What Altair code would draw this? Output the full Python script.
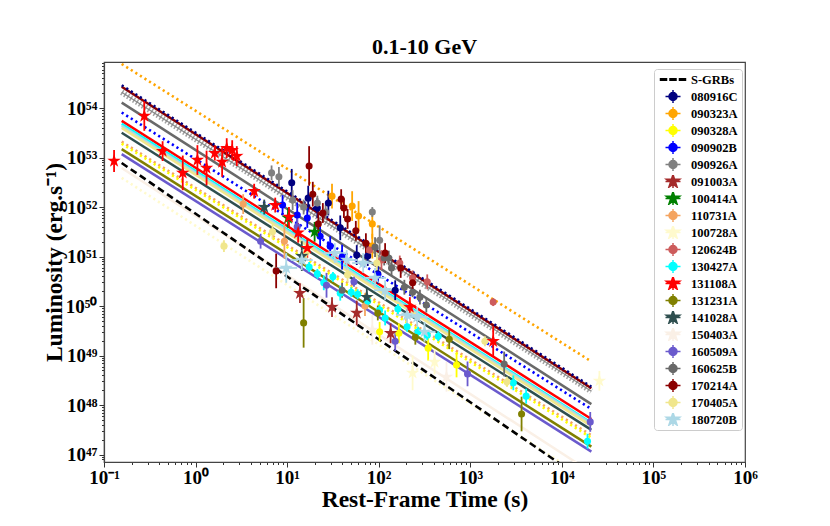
import altair as alt
import pandas as pd

# ---------------- data (log10 values) ----------------
names = ["S-GRBs", "080916C", "090323A", "090328A", "090902B", "090926A", "091003A",
         "100414A", "110731A", "100728A", "120624B", "130427A", "131108A", "131231A",
         "141028A", "150403A", "160509A", "160625B", "170214A", "170405A", "180720B"]
colors = ["#000000", "#000080", "#FFA500", "#FFFF00", "#0000FF", "#808080", "#A52A2A",
          "#008000", "#F4A460", "#FFFACD", "#CD5C5C", "#00FFFF", "#FF0000", "#808000",
          "#2F4F4F", "#FAF0E6", "#6A5ACD", "#696969", "#8B0000", "#F0E68C", "#ADD8E6"]
star_series = ["091003A", "100414A", "100728A", "131108A", "141028A", "150403A", "180720B"]

lt_080916C = [1.05, 1.23, 1.33, 1.45, 1.58, 1.76, 1.88, 1.99, 2.18]
lL_080916C = [52.49, 52.18, 51.98, 52.08, 51.58, 51.03, 51.01, 50.65, 50.32]
er_080916C = [0.28, 0.25, 0.2, 0.25, 0.25, 0.2, 0.2, 0.2, 0.2]

lt_090323A = [1.49, 1.71, 1.78, 1.93, 1.93]
lL_090323A = [52.22, 52.02, 51.82, 51.66, 51.21]
er_090323A = [0.25, 0.3, 0.3, 0.3, 0.25]

lt_090328A = [2.01, 2.22, 2.54, 2.85]
lL_090328A = [49.48, 49.45, 49.15, 48.81]
er_090328A = [0.2, 0.2, 0.25, 0.25]

lt_090902B = [0.95, 1.11, 1.22, 1.36, 1.47, 1.60, 1.99]
lL_090902B = [52.04, 51.84, 51.78, 51.41, 51.21, 50.99, 50.63]
er_090902B = [0.2, 0.25, 0.2, 0.2, 0.2, 0.25, 0.15]

lt_090926A = [0.83, 0.91, 1.06, 1.18, 1.33, 1.42, 1.93, 2.01]
lL_090926A = [52.69, 52.61, 52.14, 52.00, 52.08, 51.90, 51.90, 51.33]
er_090926A = [0.15, 0.2, 0.2, 0.15, 0.15, 0.15, 0.1, 0.3]

lt_091003A = [1.14, 1.49, 1.76, 2.13]
lL_091003A = [50.26, 49.98, 49.86, 49.45]
er_091003A = [0.2, 0.2, 0.25, 0.2]

lt_100414A = [1.01, 1.30]
lL_100414A = [51.78, 51.50]
er_100414A = [0.2, 0.2]

lt_110731A = [0.52, 0.97, 1.85]
lL_110731A = [52.06, 51.31, 50.00]
er_110731A = [0.2, 0.35, 0.2]

lt_100728A = [2.37, 2.61, 4.41]
lL_100728A = [48.65, 48.87, 48.49]
er_100728A = [0.35, 0.25, 0.2]

lt_120624B = [1.90, 2.03, 2.23, 2.37, 2.53, 3.25]
lL_120624B = [51.13, 50.93, 50.87, 50.57, 50.49, 50.08]
er_120624B = [0.15, 0.2, 0.15, 0.15, 0.15, 0.08]

lt_130427A = [1.24, 1.33, 1.40, 1.50, 1.58, 1.70, 1.77, 1.88, 2.01, 2.07, 2.21, 2.31, 2.43,
              2.53, 2.65, 3.47, 3.61, 4.28]
lL_130427A = [50.79, 50.65, 50.47, 50.59, 50.26, 50.28, 50.24, 50.10, 49.92, 49.76, 49.94,
              49.58, 49.48, 49.41, 49.39, 48.45, 48.18, 47.27]
er_130427A = [0.1, 0.1, 0.15, 0.1, 0.15, 0.1, 0.1, 0.1, 0.1, 0.15, 0.1, 0.1, 0.1, 0.1, 0.1,
              0.15, 0.15, 0.15]

lt_131108A = [-0.89, -0.56, -0.36, -0.14, 0.02, 0.12, 0.21, 0.29, 0.34, 0.40, 0.45, 0.64,
              0.87, 1.02, 1.12, 1.22, 2.34, 3.25]
lL_131108A = [52.93, 53.84, 53.13, 52.69, 52.95, 52.79, 53.09, 52.91, 53.19, 53.15, 53.03,
              52.32, 52.04, 51.80, 51.48, 51.17, 49.98, 49.29]
er_131108A = [0.22, 0.3, 0.2, 0.35, 0.3, 0.35, 0.15, 0.3, 0.2, 0.2, 0.2, 0.15, 0.15, 0.2,
              0.2, 0.2, 0.2, 0.3]

lt_131231A = [1.18, 1.99, 2.40, 2.77, 3.56]
lL_131231A = [49.66, 49.86, 49.37, 49.33, 47.82]
er_131231A = [0.5, 0.15, 0.15, 0.2, 0.35]

lt_141028A = [0.75, 1.16, 1.87]
lL_141028A = [52.00, 51.01, 50.18]
er_141028A = [0.15, 0.3, 0.2]

lt_150403A = [1.93, 2.74]
lL_150403A = [49.52, 48.57]
er_150403A = [0.3, 0.3]

lt_160509A = [0.71, 1.11, 1.43, 1.73, 2.18, 2.97, 4.31]
lL_160509A = [51.31, 51.60, 50.42, 50.49, 49.29, 48.63, 47.66]
er_160509A = [0.15, 0.2, 0.25, 0.1, 0.2, 0.25, 0.2]

lt_160625B = [1.60, 1.96, 2.06, 2.11, 2.14, 2.28, 2.37, 2.45, 2.52, 3.37]
lL_160625B = [50.32, 51.19, 50.97, 50.97, 50.77, 50.38, 50.28, 50.18, 50.02, 48.83]
er_160625B = [0.15, 0.2, 0.15, 0.15, 0.15, 0.15, 0.1, 0.15, 0.15, 0.25]

lt_170214A = [0.88, 1.24, 1.28, 1.34, 1.39, 1.59, 1.62, 1.66, 1.75, 1.86, 2.07, 2.24, 2.37]
lL_170214A = [50.71, 52.83, 52.26, 51.66, 51.88, 52.16, 51.98, 51.76, 51.52, 51.27, 51.07,
              50.77, 50.47]
er_170214A = [0.35, 0.4, 0.25, 0.25, 0.2, 0.2, 0.2, 0.2, 0.2, 0.2, 0.2, 0.2, 0.2]

lt_170405A = [0.31, 0.84, 1.21, 1.66, 1.98, 3.16, 3.40]
lL_170405A = [51.21, 51.50, 51.09, 50.63, 50.87, 49.29, 48.47]
er_170405A = [0.12, 0.15, 0.15, 0.15, 0.2, 0.1, 0.1]

lt_180720B = [0.99, 1.16, 1.52, 1.65, 1.83, 1.96, 2.07, 2.31, 2.42, 2.50]
lL_180720B = [50.77, 50.93, 51.07, 50.93, 50.87, 50.57, 50.32, 49.82, 49.78, 49.48]
er_180720B = [0.3, 0.2, 0.2, 0.2, 0.2, 0.2, 0.2, 0.2, 0.2, 0.2]
xer_180720B = 0.12

# fitted power-law lines: log10 L at the two ends of the time range
line_t = [0.156, 2.1e4]
line_names = ["090926A", "170214A", "160625B", "131108A", "130427A", "180720B", "170405A",
              "141028A", "131231A", "160509A", "150403A",
              "090323A", "080916C", "090902B", "110731A", "090328A", "100728A", "S-GRBs"]
line_style = ["band", "solid", "solid", "solid", "solid", "solid", "solid",
              "solid", "solid", "solid", "solid",
              "dot", "dot", "dot", "dot", "dot", "dot", "dash"]
line_lL0 = [54.32, 54.43, 54.11, 53.74, 53.68, 53.64, 53.60, 53.50, 53.17, 53.07, 52.79,
            54.89, 54.46, 53.91, 53.32, 53.28, 52.59, 52.89]
line_lL1 = [48.28, 48.34, 48.02, 47.72, 47.64, 47.62, 47.58, 47.50, 47.16, 47.06, 46.64,
            48.88, 48.37, 47.92, 47.39, 47.34, 46.44, 46.38]

x_major_exp = [-1, 0, 1, 2, 3, 4, 5, 6]
y_major_exp = [47, 48, 49, 50, 51, 52, 53, 54]
x_domain = [0.1, 1e6]
y_domain = [10 ** 46.85, 10 ** 54.93]

# ---------------- build tables ----------------
color_of = dict(zip(names, colors))
sets = [(n, globals()["lt_" + n], globals()["lL_" + n], globals()["er_" + n]) for n in names[1:]]
rows = []
for n, lts, lLs, ers in sets:
    for a, b, e in zip(lts, lLs, ers):
        xe = xer_180720B if n == "180720B" else 0.0
        rows.append(dict(series=n, t=10 ** a, L=10 ** b, lo=10 ** (b - e), hi=10 ** (b + e),
                         tlo=10 ** (a - xe), thi=10 ** (a + xe), xe=xe,
                         col=color_of[n], star=n in star_series))
df = pd.DataFrame(rows)

lrows = []
for i, (n, s, a, b) in enumerate(zip(line_names, line_style, line_lL0, line_lL1)):
    lrows.append(dict(series=n, style=s, t=line_t[0], L=10 ** a, col=color_of[n], k=i))
    lrows.append(dict(series=n, style=s, t=line_t[1], L=10 ** b, col=color_of[n], k=i))
dl = pd.DataFrame(lrows)

leg = pd.DataFrame(dict(series=names, t=[1e-3] * len(names), L=[1e50] * len(names)))

# ---------------- axes ----------------
FONT = "Liberation Serif"
SUP = "'⁰¹²³⁴⁵⁶⁷⁸⁹'"
E = "round(log(datum.value)/LN10)"
MAJOR = f"abs(log(datum.value)/LN10 - {E}) < 0.001"
x_label = (f"({MAJOR}) ? ('10' + ({E} < 0 ? '⁻' : '') + substring({SUP}, abs({E}), abs({E})+1)) : ''")
y_label = (f"({MAJOR}) ? ('10' + substring({SUP}, floor({E}/10), floor({E}/10)+1) + "
           f"substring({SUP}, {E}%10, {E}%10+1)) : ''")

x_ticks = [k * 10.0 ** e for e in range(x_major_exp[0], x_major_exp[-1]) for k in range(1, 10)] + [10.0 ** x_major_exp[-1]]
y_ticks = [k * 10.0 ** e for e in range(y_major_exp[0] - 1, y_major_exp[-1] + 1) for k in range(1, 10)
           if y_domain[0] <= k * 10.0 ** e <= y_domain[1]]

tick_size = {"condition": {"test": MAJOR, "value": 5}, "value": 2.5}
xaxis = alt.Axis(values=x_ticks, labelExpr=x_label, tickSize=tick_size, labelOverlap=False,
                 labelFlush=False, grid=False, labelPadding=1, titlePadding=0)
yaxis = alt.Axis(values=y_ticks, labelExpr=y_label, tickSize=tick_size, labelOverlap=False,
                 labelFlush=False, grid=False, labelPadding=2, titlePadding=-1)
xscale = alt.Scale(type="log", domain=x_domain, nice=False)
yscale = alt.Scale(type="log", domain=y_domain, nice=False)
XT = "Rest-Frame Time (s)"
YT = "Luminosity (erg.s⁻¹)"


def X(f="t"):
    return alt.X(f"{f}:Q", scale=xscale, axis=xaxis, title=XT)


def Y(f="L"):
    return alt.Y(f"{f}:Q", scale=yscale, axis=yaxis, title=YT)


col = alt.Color("col:N", scale=None)

base_l = alt.Chart(dl)
solid = base_l.transform_filter("datum.style == 'solid'").mark_line(strokeWidth=2.5, clip=True).encode(
    x=X(), y=Y(), color=col, detail="series:N", order="t:Q")
band1 = base_l.transform_filter("datum.style == 'band'").mark_line(
    strokeWidth=6, strokeDash=[1.5, 2], opacity=0.75, clip=True).encode(
    x=X(), y=Y(), color=col, detail="series:N")
band2 = base_l.transform_filter("datum.style == 'band'").mark_line(
    strokeWidth=1.2, opacity=0.9, clip=True).encode(x=X(), y=Y(), color=col, detail="series:N")
dots = base_l.transform_filter("datum.style == 'dot'").mark_line(
    strokeWidth=2.6, strokeDash=[2.2, 3.2], clip=True).encode(
    x=X(), y=Y(), color=col, detail="series:N")
dash = base_l.transform_filter("datum.style == 'dash'").mark_line(
    strokeWidth=2.6, strokeDash=[7, 4], clip=True).encode(
    x=X(), y=Y(), color=col, detail="series:N")

base_p = alt.Chart(df)
ebar = base_p.mark_rule(strokeWidth=1.8, clip=True).encode(x=X(), y=Y("lo"), y2="hi:Q", color=col)
xbar = base_p.transform_filter("datum.xe > 0").mark_rule(strokeWidth=1.8, clip=True).encode(
    x=X("tlo"), x2="thi:Q", y=Y(), color=col)
circ = base_p.transform_filter("!datum.star").mark_point(
    filled=True, shape="circle", size=50, opacity=1, clip=True).encode(x=X(), y=Y(), color=col)
STAR = ("M0,-1L0.223,-0.307L0.951,-0.309L0.361,0.117L0.588,0.809L0,0.38L-0.588,0.809"
        "L-0.361,0.117L-0.951,-0.309L-0.223,-0.307Z")
stars = base_p.transform_filter("datum.star").mark_point(
    filled=True, shape=STAR, size=200, opacity=1, clip=True).encode(x=X(), y=Y(), color=col)

# legend-only layer (points lie outside the domain and are clipped)
CROSS = "M-1.25,0L1.25,0M0,-1.25L0,1.25"
LCIRC = "M0.67,0A0.67,0.67,0,1,1,-0.67,0A0.67,0.67,0,1,1,0.67,0Z" + CROSS
LSTAR = ("M0,-1.17L0.261,-0.359L1.113,-0.362L0.422,0.137L0.688,0.947L0,0.445L-0.688,0.947"
         "L-0.422,0.137L-1.113,-0.362L-0.261,-0.359Z" + CROSS)
LDASH = "M-2.08,-0.12H-1.08V0.12H-2.08ZM-0.5,-0.12H0.5V0.12H-0.5ZM1.08,-0.12H2.08V0.12H1.08Z"
leg_shapes = [LDASH if n == "S-GRBs" else (LSTAR if n in star_series else LCIRC) for n in names]
legend = alt.Legend(title=None, orient="none", legendX=550, legendY=7, padding=4,
                    symbolOffset=8, labelOffset=11, rowPadding=4, clipHeight=13,
                    strokeColor="#cccccc", symbolOpacity=1,
                    fillColor="white", cornerRadius=3, labelFont=FONT, labelFontSize=12.5,
                    labelFontWeight="bold", labelColor="black", symbolStrokeWidth=1.5,
                    symbolSize=144, labelLimit=200)
legend_layer = alt.Chart(leg).mark_point(filled=True, clip=True, strokeWidth=1.5, opacity=1).encode(
    x=X(), y=Y(),
    fill=alt.Fill("series:N", scale=alt.Scale(domain=names, range=colors), legend=legend),
    stroke=alt.Stroke("series:N", scale=alt.Scale(domain=names, range=colors), legend=legend),
    shape=alt.Shape("series:N", scale=alt.Scale(domain=names, range=leg_shapes), legend=legend),
)

chart = alt.layer(band1, band2, solid, dots, dash, ebar, xbar, circ, stars, legend_layer).properties(
    width=641, height=400,
    title=alt.TitleParams("0.1-10 GeV", font=FONT, fontSize=22, fontWeight="bold", offset=5,
                          frame="group", color="black", dy=10),
    autosize=alt.AutoSizeParams(type="none"),
    padding={"left": 96, "top": 54, "right": 40, "bottom": 56},
).configure_view(stroke="#444444", strokeWidth=1.2).configure_axis(
    labelFont=FONT, labelFontSize=19, labelFontWeight="bold", labelColor="black",
    titleFont=FONT, titleFontSize=23.5, titleFontWeight="bold", titleColor="black",
    domainColor="#444444", tickColor="#333333", domainWidth=1.2,
)

chart.save("out.html", embed_options={"renderer": "svg", "actions": False})
